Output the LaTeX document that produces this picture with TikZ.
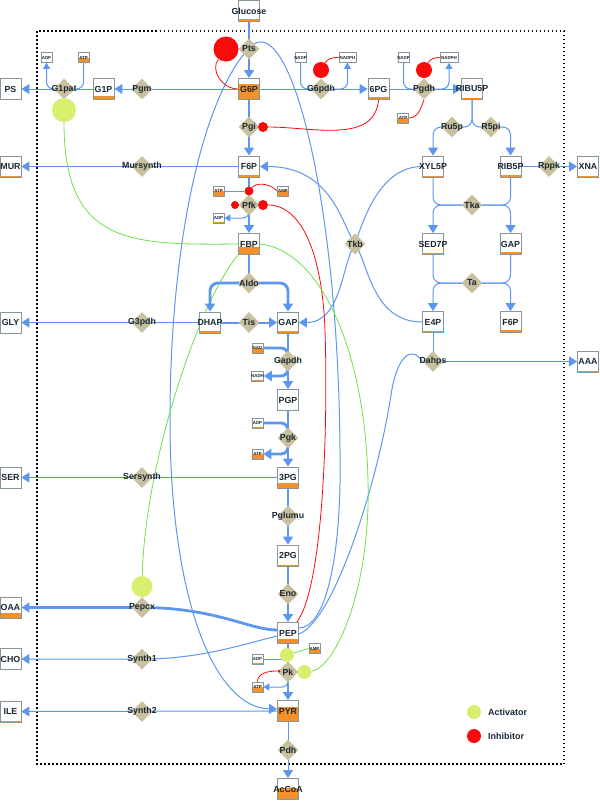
\documentclass[tikz,border=0pt]{standalone}
\usepackage{fontspec}
\setmainfont{Liberation Sans}
\usetikzlibrary{shapes.geometric,arrows.meta,backgrounds}
\definecolor{blu}{RGB}{92,150,240}
\definecolor{tanr}{RGB}{201,192,160}
\definecolor{orng}{RGB}{245,145,45}
\definecolor{boxgray}{RGB}{135,150,150}
\definecolor{inhred}{RGB}{250,10,10}
\definecolor{actgrn}{RGB}{214,240,110}
\definecolor{lgrn}{RGB}{110,225,70}
\definecolor{txt}{RGB}{25,40,50}
\tikzset{
 met/.style={draw=boxgray, line width=0.9pt, fill=white, minimum width=21pt, minimum height=21pt, inner sep=0pt,
   path picture={\fill[orng] (path picture bounding box.south west) rectangle ([yshift=#1]path picture bounding box.south east);}},
 met/.default=0pt,
 cof/.style={draw=boxgray, line width=0.6pt, fill=white, minimum height=10pt, inner sep=0pt,
   path picture={\fill[orng] (path picture bounding box.south west) rectangle ([yshift=#1]path picture bounding box.south east);}},
 cof/.default=0pt,
 rxn/.style={diamond, fill=tanr, minimum width=21pt, minimum height=21pt, inner sep=0pt},
 mlbl/.style={font=\bfseries\fontsize{8.8}{10}\selectfont, text=txt, inner sep=0pt},
 clbl/.style={font=\bfseries\fontsize{4.4}{5}\selectfont, text=txt, inner sep=0pt},
 lgl/.style={font=\bfseries\fontsize{9}{10}\selectfont, text=txt, inner sep=0pt},
 inh/.style={circle, fill=inhred, inner sep=0pt, minimum size=#1},
 actc/.style={circle, fill=actgrn, inner sep=0pt, minimum size=#1},
 bl/.style={draw=blu, line width=1pt},
 blm/.style={draw=blu, line width=1.6pt},
 blt/.style={draw=blu, line width=2.8pt},
 inhl/.style={draw=inhred, line width=0.8pt},
 actl/.style={draw=lgrn, line width=0.8pt},
 tipL/.style={-{Triangle[length=8pt,width=10pt]}},
 tipS/.style={-{Triangle[length=6pt,width=7pt]}},
}
\newcommand\mymet[4]{\node[met=#4, label={[mlbl]center:#3}] (#1) at (#2) {};}
\newcommand\mycof[5]{\node[cof=#5, minimum width=#4pt, label={[clbl]center:#3}] (#1) at (#2) {};}
\newcommand\myrxn[3]{\node[rxn, label={[mlbl]center:#3}] (#1) at (#2) {};}
\begin{document}
\begin{tikzpicture}[x=1pt,y=-1pt]
\useasboundingbox (0,0) rectangle (600,801);
% metabolites
\mymet{glc}{249,11}{Glucose}{3pt}
\mymet{gsixp}{249,89}{G6P}{16pt}
\mymet{gonep}{103.5,89}{G1P}{4pt}
\mymet{ps}{10.5,89}{PS}{1pt}
\mymet{sixpg}{378.5,89}{6PG}{2.5pt}
\mymet{ribu}{472,89}{RIBU5P}{1.5pt}
\mymet{fsixp}{249,166.5}{F6P}{2.5pt}
\mymet{mur}{10.5,166.5}{MUR}{1pt}
\mymet{xyl}{433,166.5}{XYL5P}{1.5pt}
\mymet{rib}{510.5,166.5}{RIB5P}{2.5pt}
\mymet{xna}{588,166.5}{XNA}{1pt}
\mymet{fbp}{249,244}{FBP}{8pt}
\mymet{sed}{433,244}{SED7P}{1.5pt}
\mymet{gapr}{510.5,244}{GAP}{2.5pt}
\mymet{gly}{10.5,322.5}{GLY}{0pt}
\mymet{dhap}{210,322.5}{DHAP}{2.5pt}
\mymet{gap}{288,322.5}{GAP}{2.5pt}
\mymet{efp}{433,322}{E4P}{1.5pt}
\mymet{fsixpr}{510.5,322}{F6P}{3pt}
\mymet{aaa}{588,361.5}{AAA}{1pt}
\mymet{pgp}{288,400}{PGP}{0pt}
\mymet{ser}{10.5,477.5}{SER}{0pt}
\mymet{tpg}{288,477.5}{3PG}{5pt}
\mymet{twopg}{288,555.5}{2PG}{1.5pt}
\mymet{oaa}{10.5,607.5}{OAA}{5.5pt}
\mymet{pep}{288,633}{PEP}{5pt}
\mymet{cho}{10.5,659}{CHO}{0pt}
\mymet{pyr}{288,711}{PYR}{15pt}
\mymet{ile}{10.5,711.5}{ILE}{1.5pt}
\mymet{accoa}{288,789}{AcCoA}{12pt}
% cofactors
\mycof{adpa}{46.5,57.5}{ADP}{11}{1pt}
\mycof{atpa}{83.5,57.5}{ATP}{11}{5pt}
\mycof{nadpa}{300.5,57.5}{NADP}{11}{0pt}
\mycof{nadpha}{347.5,57.5}{NADPH}{17}{0pt}
\mycof{nadpb}{403.5,57.5}{NADP}{11}{0pt}
\mycof{nadphb}{449,57.5}{NADPH}{18}{0pt}
\mycof{atpb}{403,118}{ATP}{11}{5pt}
\mycof{atpc}{218.5,191}{ATP}{11}{5pt}
\mycof{ampc}{283,191}{AMP}{11}{5pt}
\mycof{adpc}{218.5,218}{ADP}{11}{1pt}
\mycof{nadc}{257.5,348}{NAD}{11}{5pt}
\mycof{nadhc}{257.5,376}{NADH}{12}{1pt}
\mycof{adpd}{257.5,423}{ADP}{11}{1pt}
\mycof{atpd}{257.5,454}{ATP}{11}{5pt}
\mycof{ampe}{314.5,648.5}{AMP}{11}{5pt}
\mycof{adpe}{257.5,659}{ADP}{11}{1pt}
\mycof{atpe}{257.5,687}{ATP}{11}{5pt}
% reactions
\myrxn{pts}{249,49}{Pts}
\myrxn{gonepat}{64,89}{G1pat}
\myrxn{pgm}{142,89}{Pgm}
\myrxn{gsixpdh}{321,89}{G6pdh}
\myrxn{pgdh}{424,89}{Pgdh}
\myrxn{pgi}{249,127}{Pgi}
\myrxn{mursyn}{142,166.5}{Mursynth}
\myrxn{rufivep}{452,127}{Ru5p}
\myrxn{rfivepi}{491,127}{R5pi}
\myrxn{rppk}{549,166.5}{Rppk}
\myrxn{pfk}{249,205}{Pfk}
\myrxn{tkb}{355,244}{Tkb}
\myrxn{tka}{472,205}{Tka}
\myrxn{ta}{472,283}{Ta}
\myrxn{aldo}{249,283}{Aldo}
\myrxn{tis}{249,322.5}{Tis}
\myrxn{gthreepdh}{142,322.5}{G3pdh}
\myrxn{dahps}{433,361.5}{Dahps}
\myrxn{gapdh}{288,361}{Gapdh}
\myrxn{pgk}{288,438}{Pgk}
\myrxn{sersyn}{142,477.5}{Sersynth}
\myrxn{pglumu}{288,516}{Pglumu}
\myrxn{eno}{288,594}{Eno}
\myrxn{pepcx}{142,607.5}{Pepcx}
\myrxn{synthone}{142,659}{Synth1}
\myrxn{pk}{288,672}{Pk}
\myrxn{synthtwo}{142,711.5}{Synth2}
\myrxn{pdh}{288,750}{Pdh}
% effectors
\node[inh=25pt] (ipts) at (226,49) {};
\node[inh=16pt] (igsixpdh) at (321,70) {};
\node[inh=16pt] (ipgdh) at (424,70) {};
\node[inh=10pt] (ipgi) at (263,127) {};
\node[inh=9pt] (ipfkt) at (249,191) {};
\node[inh=8pt] (ipfkl) at (235,205) {};
\node[inh=10pt] (ipfkr) at (263,205) {};
\node[inh=3pt] (ipk) at (279,671) {};
\node[actc=24pt] (agonepat) at (64,110) {};
\node[actc=21pt] (apepcx) at (142,586.5) {};
\node[actc=14pt] (apkt) at (287,655) {};
\node[actc=14pt] (apkr) at (304.5,672) {};
% legend
\node[actc=14pt] (lega) at (474,712) {};
\node[lgl, anchor=west] (legat) at (488,712) {Activator};
\node[inh=14pt] (legi) at (474,736) {};
\node[lgl, anchor=west] (legit) at (488,736) {Inhibitor};
\begin{scope}[on background layer]
\draw[line width=1.5pt, dash pattern=on 1.5pt off 2.5pt] (37,31) rectangle (564,764);
% upper glycolysis
\draw[blm,tipL] (glc) -- (gsixp);
\draw[blm,tipL] (gsixp) -- (fsixp);
\draw[blm,tipL] (fsixp) -- (fbp);
\draw[bl,tipL] (gsixp) -- (gonep);
\draw[bl,tipL] (gonep) -- (ps);
\draw[bl,rounded corners=7pt] (atpa.south) |- (gonepat.center);
\draw[bl,tipS,rounded corners=7pt] (gonepat.center) -| (adpa.south);
\draw[bl,tipL] (gsixp) -- (sixpg);
\draw[bl,rounded corners=7pt] (nadpa.south) |- (gsixpdh.center);
\draw[bl,tipS,rounded corners=7pt] (gsixpdh.center) -| (nadpha.south);
\draw[bl,tipL] (sixpg) -- (ribu);
\draw[bl,rounded corners=7pt] (nadpb.south) |- (pgdh.center);
\draw[bl,tipS,rounded corners=7pt] (pgdh.center) -| (nadphb.south);
\draw[bl,tipL] (fsixp) -- (mur);
% pentose phosphate
\draw[bl,rounded corners=8pt] (ribu.south) |- (rufivep.center);
\draw[bl,tipL,rounded corners=8pt] (rufivep.center) -| (xyl.north);
\draw[bl,rounded corners=8pt] (ribu.south) |- (rfivepi.center);
\draw[bl,tipL,rounded corners=8pt] (rfivepi.center) -| (rib.north);
\draw[bl,tipL] (rib) -- (xna);
\draw[bl,rounded corners=8pt] (xyl.south) |- (tka.center);
\draw[bl,rounded corners=8pt] (rib.south) |- (tka.center);
\draw[bl,tipL,rounded corners=8pt] (tka.center) -| (sed.north);
\draw[bl,tipL,rounded corners=8pt] (tka.center) -| (gapr.north);
\draw[bl,rounded corners=8pt] (sed.south) |- (ta.center);
\draw[bl,rounded corners=8pt] (gapr.south) |- (ta.center);
\draw[bl,tipL,rounded corners=8pt] (ta.center) -| (efp.north);
\draw[bl,tipL,rounded corners=8pt] (ta.center) -| (fsixpr.north);
\draw[bl] (efp) -- (dahps.center);
\draw[bl,tipL] (dahps.center) -- (aaa);
% Tkb
\draw[bl] (xyl.west) .. controls (378,166.5) and (362,225) .. (tkb.center);
\draw[bl,tipL] (tkb.center) .. controls (342,262) and (342,322.5) .. (gap.east);
\draw[bl] (tkb.center) .. controls (368,262) and (372,322) .. (efp.west);
\draw[bl,tipL] (tkb.center) .. controls (342,225) and (332,166.5) .. (fsixp.east);
% Pts loops and Dahps
\draw[bl] ([yshift=5pt]pep.east) .. controls (325,628) and (342,560) .. (340,450) .. controls (338,200) and (292,22) .. (pts.north east);
\draw[bl,tipL] (pts.south west) .. controls (200,110) and (170,250) .. (170,420) .. controls (170,600) and (215,708) .. ([yshift=2pt]pyr.west);
\draw[bl] ([yshift=-1pt]pep.east) .. controls (335,620) and (378,480) .. (391,395) .. controls (397,355) and (412,345) .. (dahps.west);
% inhibitions
\draw[inhl] (gsixp.west) .. controls (222,89) and (210,70) .. (ipts);
\draw[inhl] (igsixpdh) to[out=60,in=180] (nadpha.west);
\draw[inhl] (ipgdh) to[out=60,in=180] (nadphb.west);
\draw[inhl] (atpb.east) to[out=0,in=-110] (pgdh.south);
\draw[inhl] (sixpg.south) to[out=-95,in=0] (ipgi);
\draw[bl] (atpc.east) -- (ipfkt);
\draw[inhl] (ipfkt) .. controls (256,183) and (268,182) .. (ampc.west);
\draw[inhl] (ipfkl) -- (pfk.west);
\draw[inhl] (ipfkr) -- (pfk.east);
\draw[bl,tipS,rounded corners=6pt] (pfk.center) |- (adpc.east);
\draw[inhl] ([xshift=-2pt]pep.north east) .. controls (324,585) and (328,420) .. (325,330) .. controls (322,250) and (300,205) .. (ipfkr);
\draw[inhl] (atpe.north) to[out=90,in=180] (ipk);
% activations
\draw[actl] (fbp.west) .. controls (130,245) and (64,245) .. (agonepat);
\draw[actl] (fbp.south west) .. controls (200,300) and (145,460) .. (apepcx);
\draw[actl] (fbp.east) .. controls (320,250) and (365,350) .. (368,480) .. controls (371,590) and (335,668) .. (apkr);
\draw[actl] (ampe.west) -- (apkt);
% lower glycolysis
\draw[blt] (fbp) -- (aldo.center);
\draw[blt,tipL,rounded corners=8pt] (aldo.center) -| (dhap.north);
\draw[blt,tipL,rounded corners=8pt] (aldo.center) -| (gap.north);
\draw[draw=blu,line width=2pt,tipL] (dhap) -- (gap);
\draw[bl,tipL] (dhap) -- (gly);
\draw[blt,tipL] (gap) -- (pgp);
\draw[blt,rounded corners=7pt] (nadc.east) -| (gapdh.center);
\draw[blt,tipL,rounded corners=7pt] (gapdh.center) |- (nadhc.east);
\draw[blt,tipL] (pgp) -- (tpg);
\draw[blt,rounded corners=7pt] (adpd.east) -| (pgk.center);
\draw[blt,tipL,rounded corners=7pt] (pgk.center) |- (atpd.east);
\draw[blt,tipL] (tpg) -- (twopg);
\draw[blt,tipL] (twopg) -- (pep);
\draw[bl,tipL] (tpg) -- (ser);
\draw[blt,tipL] ([yshift=3pt]pep.west) .. controls (250,630) and (215,607.5) .. (pepcx.center) -- (oaa);
\draw[bl,tipL] ([yshift=-3pt]pep.west) .. controls (240,645) and (200,659) .. (synthone.center) -- (cho);
\draw[bl,tipL] (pyr) -- (ile);
\draw[blm,tipL] (pep) -- (pyr);
\draw[bl] (adpe.east) -- (adpe.east -| pk.center);
\draw[bl,tipS,rounded corners=6pt] (pk.center) |- (atpe.east);
\draw[bl,tipL] (pyr) -- (accoa);
\end{scope}
\end{tikzpicture}
\end{document}
